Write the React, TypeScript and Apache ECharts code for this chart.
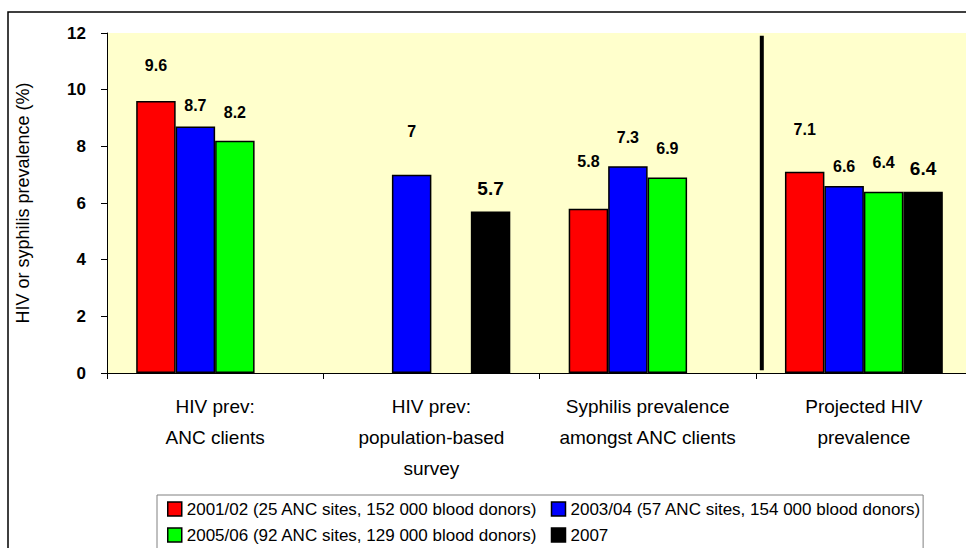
import React, { useEffect, useRef } from 'react';
import * as echarts from 'echarts';

const categories = [
  'HIV prev:\nANC clients',
  'HIV prev:\npopulation-based\nsurvey',
  'Syphilis prevalence\namongst ANC clients',
  'Projected HIV\nprevalence',
];

const seriesNames = [
  '2001/02 (25 ANC sites, 152 000 blood donors)',
  '2003/04 (57 ANC sites, 154 000 blood donors)',
  '2005/06 (92 ANC sites, 129 000 blood donors)',
  '2007',
];

const values2001 = [9.6, null, 5.8, 7.1];
const values2003 = [8.7, 7, 7.3, 6.6];
const values2005 = [8.2, null, 6.9, 6.4];
const values2007 = [null, 5.7, null, 6.4];

const yTicks = { min: 0, max: 12, interval: 2 };

const FONT = "'Liberation Sans', Arial, sans-serif";
const colors = ['#FF0000', '#0000FF', '#00FF00', '#000000'];
// label lift above each bar (the original labels were dragged by hand)
const labelLift = [
  [28, 0, 39, 34],
  [13, 35, 21, 12],
  [20, 0, 21, 21],
  [0, 14, 0, 14],
];

const App: React.FC = () => {
  const chartRef = useRef<HTMLDivElement>(null);

  useEffect(() => {
    document.body.style.margin = '0';
    const chart = echarts.init(chartRef.current!, null, { renderer: 'svg' });

    const all = [values2001, values2003, values2005, values2007];
    const series = all.map((vals, i) => ({
      name: seriesNames[i],
      type: 'bar',
      barGap: '0%',
      barCategoryGap: '27%',
      itemStyle: { color: colors[i], borderColor: '#000', borderWidth: 1.5 },
      label: {
        show: true,
        position: 'top',
        fontFamily: FONT,
        fontWeight: 'bold',
        fontSize: i === 3 ? 19 : 16,
        color: '#000',
      },
      data: vals.map((v, j) => ({
        value: v,
        label: { distance: labelLift[i][j] },
      })),
    }));

    chart.setOption({
      animation: false,
      textStyle: { fontFamily: FONT },
      grid: {
        left: 107,
        top: 33,
        bottom: 175,
        width: 865,
        outerBoundsMode: 'none',
        show: true,
        backgroundColor: '#FFFFCC',
        borderWidth: 0,
      },
      legend: {
        left: 157,
        top: 495,
        orient: 'horizontal',
        width: 790,
        padding: [4, 2, 6, 10],
        itemGap: 6,
        itemWidth: 14,
        itemHeight: 14,
        borderColor: '#808080',
        borderWidth: 1,
        icon: 'rect',
        textStyle: { fontFamily: FONT, fontSize: 17, color: '#000', lineHeight: 20 },
        data: seriesNames.map((n, i) => ({
          name: n,
          itemStyle: { borderColor: '#000', borderWidth: 1.5 },
          textStyle: i % 2 === 0 ? { width: 358 } : {},
        })),
      },
      xAxis: {
        type: 'category',
        data: categories,
        axisLine: { lineStyle: { color: '#000', width: 1 } },
        axisTick: { show: true, length: 6, lineStyle: { color: '#000' } },
        axisLabel: {
          fontFamily: FONT,
          fontSize: 19,
          lineHeight: 31,
          color: '#000',
          margin: 18,
          interval: 0,
        },
      },
      yAxis: {
        type: 'value',
        min: yTicks.min,
        max: yTicks.max,
        interval: yTicks.interval,
        name: 'HIV or syphilis prevalence (%)',
        nameLocation: 'middle',
        nameGap: 75,
        nameTextStyle: { fontFamily: FONT, fontSize: 18, color: '#000' },
        axisLine: { show: true, lineStyle: { color: '#000', width: 1 } },
        axisTick: { show: true, length: 6, lineStyle: { color: '#000' } },
        splitLine: { show: false },
        axisLabel: {
          fontFamily: FONT,
          fontSize: 17,
          fontWeight: 'bold',
          color: '#000',
          margin: 21,
        },
      },
      series,
    });

    // divider between observed and projected values
    const top = chart.convertToPixel({ gridIndex: 0 }, [2, 11.9]) as number[];
    const next = chart.convertToPixel({ gridIndex: 0 }, [3, 0.1]) as number[];
    const divX = top[0] + (next[0] - top[0]) * 0.528;

    chart.setOption({
      graphic: [
        {
          type: 'rect',
          shape: { x: 8, y: 12, width: 1000, height: 600 },
          style: { fill: 'none', stroke: '#000', lineWidth: 1.5 },
          silent: true,
        },
        {
          type: 'line',
          shape: { x1: divX, y1: top[1], x2: divX, y2: next[1] },
          style: { stroke: '#000', lineWidth: 4 },
          silent: true,
        },
      ],
    });

    const handleResize = () => chart.resize();
    window.addEventListener('resize', handleResize);

    return () => {
      chart.dispose();
      window.removeEventListener('resize', handleResize);
    };
  }, []);

  return <div ref={chartRef} style={{ width: '966px', height: '548px' }} />;
};

export default App;
